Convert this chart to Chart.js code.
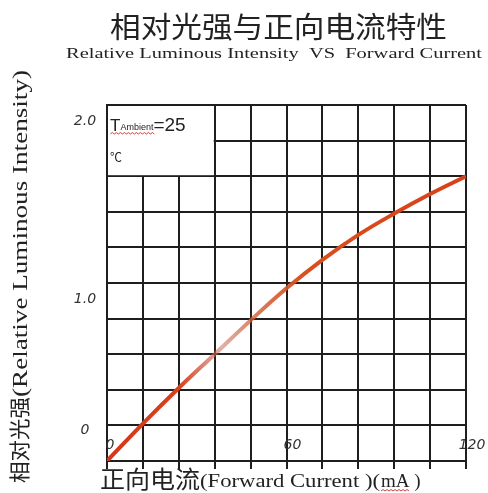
<!DOCTYPE html>
<html>
<head>
<meta charset="utf-8">
<script src="https://cdn.jsdelivr.net/npm/chart.js@4/dist/chart.umd.min.js"></script>
<style>
    html, body { margin: 0; padding: 0; background: #fff; }
    #wrap { width: 488px; height: 493px; }
</style>
</head>
<body>
<div id="wrap"><canvas id="ivChart" width="488" height="493"></canvas></div>
<script>
// forward current (mA) and relative luminous intensity
const currentMA = [0, 12, 24, 36, 48, 60, 72, 84, 96, 108, 120];
const relIntensity = [0, 0.21, 0.41, 0.6, 0.79, 0.97, 1.13, 1.27, 1.39, 1.5, 1.6];

// labelled ticks
const xTickValues = [0, 60, 120];
const xTickText = ['0', '60', '120'];
const yTickValues = [0, 1.0, 2.0];
const yTickText = ['0', '1.0', '2.0'];

const titleText = '相对光强与正向电流特性';
const subtitleText = 'Relative Luminous Intensity  VS  Forward Current';
const yTitleCn = '相对光强';
const yTitleEn = '(Relative Luminous Intensity)';
const xTitleCn = '正向电流';
const xTitleEn = '(Forward Current )(';
const xTitleUnit = 'mA';
const ambientText = ['T', 'Ambient', '=25', '℃'];

function wavy(ctx, x0, x1, y) {
    ctx.save();
    ctx.strokeStyle = '#d04040';
    ctx.lineWidth = 1;
    ctx.beginPath();
    ctx.moveTo(x0, y);
    let up = true;
    for (let x = x0 + 2; x <= x1; x += 2) {
        ctx.lineTo(x, up ? y - 1.5 : y);
        up = !up;
    }
    ctx.stroke();
    ctx.restore();
}

// draws text stretched to a given width
function fitText(ctx, text, x, y, width) {
    const w = ctx.measureText(text).width;
    ctx.save();
    ctx.translate(x, y);
    ctx.scale(width / w, 1);
    ctx.fillText(text, 0, 0);
    ctx.restore();
}

const labelsPlugin = {
    id: 'labelsPlugin',
    beforeDatasetsDraw(chart) {
        const { ctx, chartArea, scales } = chart;
        // white box with ambient note over the top-left cells
        ctx.save();
        ctx.fillStyle = '#fff';
        const bx1 = scales.x.getPixelForValue(36) - 1;
        const by1 = scales.y.getPixelForValue(1.6) - 1;
        ctx.fillRect(chartArea.left + 1, chartArea.top + 1, bx1 - chartArea.left - 1, by1 - chartArea.top - 1);
        ctx.fillStyle = '#222';
        ctx.textBaseline = 'alphabetic';
        let x = chartArea.left + 3;
        const y = chartArea.top + 26;
        ctx.font = '17px "Liberation Sans", Arial, sans-serif';
        ctx.fillText(ambientText[0], x, y);
        x += ctx.measureText(ambientText[0]).width;
        ctx.font = '9px "Liberation Sans", Arial, sans-serif';
        ctx.fillText(ambientText[1], x, y - 1);
        const aw = ctx.measureText(ambientText[1]).width;
        wavy(ctx, x - 10, x + aw + 2, y + 3);
        x += aw;
        ctx.font = '19px "Liberation Sans", Arial, sans-serif';
        ctx.fillText(ambientText[2], x, y);
        ctx.font = '12px "Noto Sans CJK SC", sans-serif';
        ctx.fillText(ambientText[3], chartArea.left + 3, chartArea.top + 57);
        ctx.restore();
    },
    afterDraw(chart) {
        const { ctx, chartArea, scales } = chart;
        ctx.save();
        ctx.fillStyle = '#222';
        ctx.textAlign = 'left';
        ctx.textBaseline = 'alphabetic';

        // title and subtitle
        ctx.font = '29px "Noto Sans CJK SC", sans-serif';
        fitText(ctx, titleText, 110, 38, 337);
        ctx.font = '15px "Liberation Serif", "Times New Roman", serif';
        fitText(ctx, subtitleText, 66, 58, 416);

        // tick labels (italic, sitting inside the plot like the original)
        ctx.fillStyle = '#333';
        ctx.font = 'italic 14px "DejaVu Sans", sans-serif';
        ctx.textAlign = 'center';
        xTickValues.forEach((v, i) => {
            const px = scales.x.getPixelForValue(v);
            ctx.fillText(xTickText[i], px + (i === 0 ? 3 : 6), chartArea.bottom - 12);
        });
        yTickValues.forEach((v, i) => {
            const py = Math.min(scales.y.getPixelForValue(v) + 20, chartArea.bottom - 27);
            ctx.fillText(yTickText[i], chartArea.left - 22, py);
        });
        ctx.fillStyle = '#222';

        // y title, rotated
        ctx.save();
        ctx.translate(27, 483);
        ctx.rotate(-Math.PI / 2);
        ctx.textAlign = 'left';
        ctx.font = '21px "Noto Sans CJK SC", sans-serif';
        fitText(ctx, yTitleCn, 0, 0, 86);
        ctx.font = '20px "Liberation Serif", "Times New Roman", serif';
        fitText(ctx, yTitleEn, 86, 0, 327);
        ctx.restore();

        // x title
        ctx.textAlign = 'left';
        ctx.font = '24px "Noto Sans CJK SC", sans-serif';
        fitText(ctx, xTitleCn, 100, 488, 100);
        ctx.font = '19px "Liberation Serif", "Times New Roman", serif';
        fitText(ctx, xTitleEn, 200, 487, 180);
        ctx.fillText(xTitleUnit, 381, 487);
        const uw = ctx.measureText(xTitleUnit).width;
        wavy(ctx, 381, 381 + uw, 491);
        ctx.fillText(' )', 381 + uw, 487);
        ctx.restore();
    }
};

document.addEventListener('DOMContentLoaded', () => {
    const ctx = document.getElementById('ivChart').getContext('2d');
    new Chart(ctx, {
        type: 'line',
        data: {
            datasets: [{
                label: 'Relative Luminous Intensity',
                data: currentMA.map((c, i) => ({ x: c, y: relIntensity[i] })),
                borderColor: (context) => {
                    const area = context.chart.chartArea;
                    if (!area) return '#d8401a';
                    const g = context.chart.ctx.createLinearGradient(area.left, 0, area.right, 0);
                    g.addColorStop(0, '#d8361a');
                    g.addColorStop(0.2, '#d8401a');
                    g.addColorStop(0.32, 'rgba(200,110,90,0.55)');
                    g.addColorStop(0.42, 'rgba(210,90,50,0.8)');
                    g.addColorStop(0.55, '#d8501e');
                    g.addColorStop(1, '#d8401a');
                    return g;
                },
                borderWidth: 4,
                pointRadius: 0,
                tension: 0.4,
                fill: false
            }]
        },
        options: {
            responsive: false,
            animation: false,
            layout: { padding: { left: 107, right: 22, top: 105, bottom: 24 } },
            plugins: {
                legend: { display: false },
                tooltip: { enabled: false }
            },
            scales: {
                x: {
                    type: 'linear',
                    min: 0,
                    max: 120,
                    ticks: { stepSize: 12, display: false },
                    grid: { color: '#1e1e1e', lineWidth: 2, drawTicks: true, tickLength: 8 },
                    border: { color: '#1e1e1e', width: 2 }
                },
                y: {
                    min: 0,
                    max: 2.0,
                    ticks: { stepSize: 0.2, display: false },
                    grid: { color: '#1e1e1e', lineWidth: 2, drawTicks: false },
                    border: { color: '#1e1e1e', width: 2 }
                }
            }
        },
        plugins: [labelsPlugin]
    });
});
</script>
</body>
</html>
